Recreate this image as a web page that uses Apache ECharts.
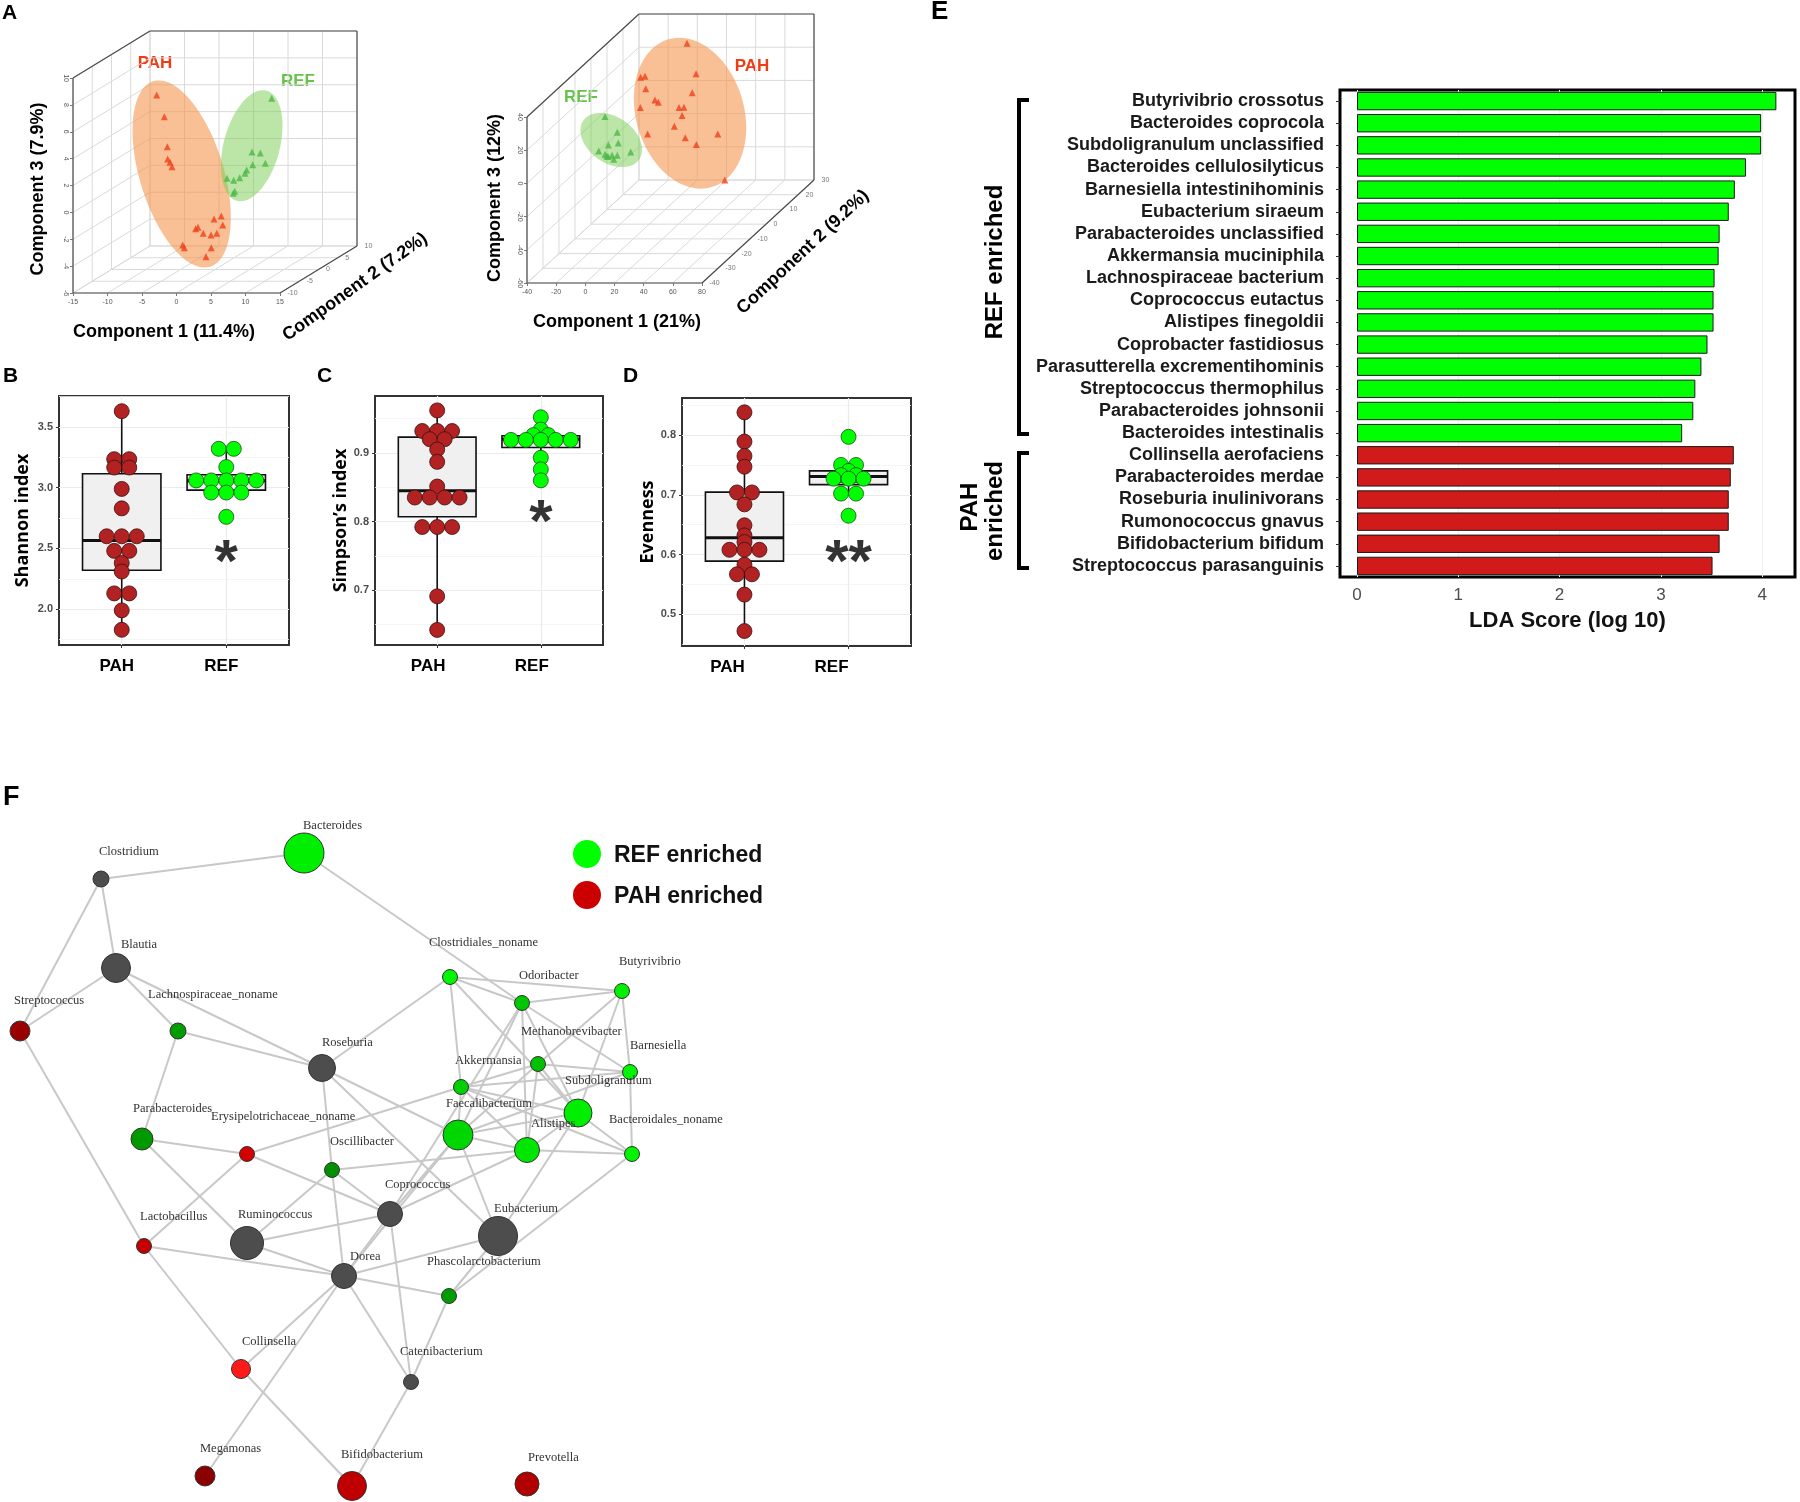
<!DOCTYPE html>
<html lang="en">
<head>
<meta charset="utf-8">
<title>Gut microbiome: PAH vs REF</title>
<script src="https://cdn.jsdelivr.net/npm/echarts@6.0.0/dist/echarts.min.js"></script>
<style>
  html, body { margin: 0; padding: 0; background: #ffffff; }
  #chart { width: 1800px; height: 1502px; }
</style>
</head>
<body>
<div id="chart"></div>
<script>
// ---------- A: ordination scores, each point = [component 1, component 2, component 3] ----------
const ordLeftPAH = [[-8.45,0,6.98],[-7.35,0,5.37],[-6.91,0,3.14],[-6.86,0,2.22],[-6.52,0,1.98],[-6.23,0,1.65],
  [-2.8,0,-2.96],[-2.46,0,-2.86],[-1.7,0,-3.31],[-0.58,0,-3.43],[0.25,0,-3.31],[-0.14,0,-2.24],[0.91,0,-2.02],
  [1.12,0,-2.69],[-4.68,0,-4.18],[-4.45,0,-4.38],[-0.54,0,-4.38],[-1.3,0,-5.05]];
const ordLeftREF = [[8.22,0,6.74],[5.36,0,2.74],[6.57,0,2.67],[7.29,0,1.9],[5.46,0,1.8],[4.59,0,1.4],
  [4.35,0,1.16],[3.58,0,0.83],[2.71,0,0.64],[1.74,0,0.79],[2.86,0,-0.18],[2.65,0,-0.33]];
const ordRightPAH = [[3.9,20,31.3],[10.1,20,12.9],[-27.9,20,10.8],[-24.9,20,11.4],[-24.4,20,3.9],[7.5,20,1.5],
  [-18.1,20,-2.9],[-15.8,20,-4.3],[-28.1,20,-7.5],[-1.6,20,-7.5],[1.8,20,-7.3],[0.5,20,-12.3],[-4.8,20,-18.7],
  [-23.1,20,-23.4],[2.7,20,-25.6],[25,20,-23.4],[10.3,20,-29.8],[29.8,20,-51.1]];
const ordRightREF = [[-30.4,0,4.8],[-22,0,-4.6],[-28.1,0,-12.3],[-21.3,0,-11.1],[-34.7,0,-15.9],[-30.4,0,-17.9],
  [-29.2,0,-18.9],[-25.6,0,-18.5],[-22,0,-18.5],[-24.4,0,-20.9],[-12.8,0,-16.5],[-28.3,0,-19.3]];
// ellipse centres
const ellLeftPAH = [-4.83,0,1.11], ellLeftREF = [5.32,0,3.21];
const ellRightPAH = [5.95,20,-10.9], ellRightREF = [-26.1,0,-9.3];
// tick labels
const leftTicks1 = [-15,-10,-5,0,5,10,15], leftTicks2 = [-10,-5,0,5,10], leftTicks3 = [-6,-4,-2,0,2,4,6,8,10];
const rightTicks1 = [-40,-20,0,20,40,60,80], rightTicks2 = [-40,-30,-20,-10,0,10,20,30], rightTicks3 = [-60,-40,-20,0,20,40];

// ---------- B-D: alpha diversity ----------
const groups = ['PAH', 'REF'];
const shannonPAH = [3.63,3.235,3.235,3.166,3.166,2.99,2.83,2.60,2.60,2.60,2.48,2.48,2.38,2.31,2.13,2.13,1.99,1.83];
const shannonREF = [3.32,3.32,3.17,3.06,3.06,3.06,3.06,3.06,2.96,2.96,2.96,2.76];
const simpsonPAH = [0.962,0.932,0.932,0.932,0.920,0.920,0.905,0.887,0.851,0.835,0.835,0.835,0.835,0.792,0.792,0.792,0.691,0.642];
const simpsonREF = [0.952,0.934,0.926,0.926,0.919,0.919,0.919,0.919,0.919,0.893,0.876,0.860];
const evenPAH = [0.838,0.789,0.765,0.747,0.704,0.704,0.684,0.649,0.632,0.621,0.608,0.608,0.608,0.583,0.567,0.567,0.533,0.472];
const evenREF = [0.797,0.750,0.750,0.740,0.733,0.733,0.727,0.727,0.727,0.702,0.702,0.665];
// box stats: [group, lower whisker, Q1, median, Q3, upper whisker]
const shannonBox = [[1,1.83,2.32,2.565,3.115,3.64],[2,2.96,2.98,3.057,3.107,3.32]];
const simpsonBox = [[1,0.642,0.807,0.845,0.923,0.962],[2,0.860,0.908,0.920,0.925,0.952]];
const evenBox = [[1,0.472,0.589,0.628,0.7045,0.838],[2,0.702,0.717,0.7305,0.740,0.750]];
const shannonTicks = [2.0,2.5,3.0,3.5], simpsonTicks = [0.7,0.8,0.9], evenTicks = [0.5,0.6,0.7,0.8];

// ---------- E: LEfSe ----------
const refTaxa = ['Butyrivibrio crossotus','Bacteroides coprocola','Subdoligranulum unclassified','Bacteroides cellulosilyticus',
  'Barnesiella intestinihominis','Eubacterium siraeum','Parabacteroides unclassified','Akkermansia muciniphila',
  'Lachnospiraceae bacterium','Coprococcus eutactus','Alistipes finegoldii','Coprobacter fastidiosus',
  'Parasutterella excrementihominis','Streptococcus thermophilus','Parabacteroides johnsonii','Bacteroides intestinalis'];
const refLDA = [4.14,3.99,3.99,3.84,3.73,3.67,3.58,3.57,3.53,3.52,3.52,3.46,3.40,3.34,3.32,3.21];
const pahTaxa = ['Collinsella aerofaciens','Parabacteroides merdae','Roseburia inulinivorans','Rumonococcus gnavus',
  'Bifidobacterium bifidum','Streptococcus parasanguinis'];
const pahLDA = [3.72,3.69,3.67,3.67,3.58,3.51];
const ldaTicks = [0,1,2,3,4];

// ---------- F: co-occurrence network ----------
const genera = ['Bacteroides','Clostridium','Blautia','Streptococcus','Lachnospiraceae_noname','Roseburia',
  'Clostridiales_noname','Odoribacter','Butyrivibrio','Methanobrevibacter','Barnesiella','Akkermansia',
  'Subdoligranulum','Faecalibacterium','Alistipes','Bacteroidales_noname','Parabacteroides','Erysipelotrichaceae_noname',
  'Oscillibacter','Coprococcus','Eubacterium','Lactobacillus','Ruminococcus','Dorea','Phascolarctobacterium',
  'Collinsella','Catenibacterium','Megamonas','Bifidobacterium','Prevotella'];
// layout coordinates of each genus in the network
const generaLayout = [[304,853],[101,879],[116,968],[20,1031],[178,1031],[322,1068],[450,977],[522,1003],[622,991],
  [538,1064],[630,1072],[461,1087],[578,1113],[458,1135],[527,1150],[632,1154],[142,1139],[247,1154],[332,1170],
  [390,1214],[498,1236],[144,1246],[247,1243],[344,1276],[449,1296],[241,1369],[411,1382],[205,1476],[352,1486],[527,1484]];
const generaAbundance = [40,16,29,20,16,27,15,15,15,15,15,15,28,30,25,15,22,15,15,25,39,15,33,25,15,19,15,20,29,24];
const networkEdges = [
  ['Clostridium','Bacteroides'],['Clostridium','Blautia'],['Clostridium','Streptococcus'],['Bacteroides','Odoribacter'],
  ['Blautia','Streptococcus'],['Blautia','Lachnospiraceae_noname'],['Blautia','Roseburia'],
  ['Lachnospiraceae_noname','Roseburia'],['Lachnospiraceae_noname','Parabacteroides'],['Streptococcus','Lactobacillus'],
  ['Roseburia','Clostridiales_noname'],['Roseburia','Oscillibacter'],['Roseburia','Faecalibacterium'],['Roseburia','Eubacterium'],
  ['Parabacteroides','Erysipelotrichaceae_noname'],['Parabacteroides','Ruminococcus'],
  ['Erysipelotrichaceae_noname','Akkermansia'],['Erysipelotrichaceae_noname','Lactobacillus'],['Erysipelotrichaceae_noname','Coprococcus'],
  ['Clostridiales_noname','Odoribacter'],['Clostridiales_noname','Butyrivibrio'],['Clostridiales_noname','Akkermansia'],
  ['Clostridiales_noname','Subdoligranulum'],['Odoribacter','Butyrivibrio'],['Odoribacter','Faecalibacterium'],
  ['Odoribacter','Coprococcus'],['Odoribacter','Alistipes'],['Odoribacter','Subdoligranulum'],['Odoribacter','Barnesiella'],
  ['Butyrivibrio','Barnesiella'],['Butyrivibrio','Methanobrevibacter'],['Butyrivibrio','Subdoligranulum'],
  ['Methanobrevibacter','Akkermansia'],['Methanobrevibacter','Barnesiella'],['Methanobrevibacter','Faecalibacterium'],
  ['Methanobrevibacter','Alistipes'],['Methanobrevibacter','Subdoligranulum'],
  ['Akkermansia','Barnesiella'],['Akkermansia','Faecalibacterium'],['Akkermansia','Subdoligranulum'],['Akkermansia','Alistipes'],
  ['Akkermansia','Bacteroidales_noname'],['Barnesiella','Bacteroidales_noname'],['Barnesiella','Faecalibacterium'],
  ['Subdoligranulum','Faecalibacterium'],['Subdoligranulum','Alistipes'],['Subdoligranulum','Bacteroidales_noname'],
  ['Subdoligranulum','Eubacterium'],['Faecalibacterium','Alistipes'],['Faecalibacterium','Eubacterium'],
  ['Faecalibacterium','Coprococcus'],['Faecalibacterium','Dorea'],['Alistipes','Bacteroidales_noname'],
  ['Alistipes','Oscillibacter'],['Alistipes','Coprococcus'],['Oscillibacter','Ruminococcus'],['Oscillibacter','Coprococcus'],
  ['Oscillibacter','Dorea'],['Coprococcus','Ruminococcus'],['Coprococcus','Dorea'],['Coprococcus','Catenibacterium'],
  ['Ruminococcus','Dorea'],['Lactobacillus','Dorea'],['Lactobacillus','Collinsella'],['Dorea','Eubacterium'],
  ['Dorea','Phascolarctobacterium'],['Dorea','Collinsella'],['Dorea','Megamonas'],['Dorea','Catenibacterium'],
  ['Phascolarctobacterium','Catenibacterium'],['Phascolarctobacterium','Eubacterium'],['Phascolarctobacterium','Bacteroidales_noname'],
  ['Collinsella','Bifidobacterium'],['Catenibacterium','Bifidobacterium']];

// ---------- styles ----------
const FONT = 'Liberation Sans';
const RED_PT = '#F0401A', GREEN_PT = '#4DB848';
const generaColor = ['#00EE00','#4D4D4D','#4D4D4D','#990000','#009C00','#4D4D4D','#00F500','#00C800','#00F000',
  '#00C000','#00F500','#00D000','#00EE00','#00D600','#00E600','#00F500','#009900','#D40000','#009000','#4D4D4D',
  '#4D4D4D','#C40000','#4D4D4D','#4D4D4D','#009C00','#FF1A1A','#4D4D4D','#8B0000','#C00000','#B00000'];
const generaLabelOffset = [[-1,-27],[-2,-27],[5,-23],[-6,-30],[-30,-36],[0,-25],[-21,-34],[-3,-27],[-3,-29],[-17,-32],
  [0,-26],[-6,-26],[-13,-32],[-12,-31],[4,-26],[-23,-34],[-9,-30],[-36,-37],[-2,-28],[-5,-29],[-4,-27],[-4,-29],
  [-9,-28],[6,-19],[-22,-34],[1,-27],[-11,-30],[-5,-27],[-11,-31],[1,-26]];

// oblique projection of the 3-D box (kx, ky: shift per unit of component 2)
const boxLeft = { c1: [-15, 15], c2: [-10, 10], c3: [-6, 10], t1: leftTicks1, t2: leftTicks2, t3: leftTicks3, kx: 0.558, ky: 0.175 };
const boxRight = { c1: [-40, 80], c2: [-40, 30], c3: [-60, 40], t1: rightTicks1, t2: rightTicks2, t3: rightTicks3, kx: 1.097, ky: 0.886 };

function proj(b, p) {
  return [p[0] + (p[1] - b.c2[0]) * b.kx, p[2] + (p[1] - b.c2[0]) * b.ky];
}

const grids = [], xAxes = [], yAxes = [], series = [];
const NO_LINE = { show: false, onZero: false };

function segmentSeries(gi, segs, color, width, z) {
  return {
    type: 'custom', xAxisIndex: gi, yAxisIndex: gi, clip: false, silent: true, z: z,
    data: segs.map(s => [s[0][0], s[0][1], s[1][0], s[1][1]]),
    renderItem(params, api) {
      const a = api.coord([api.value(0), api.value(1)]);
      const c = api.coord([api.value(2), api.value(3)]);
      return { type: 'line', shape: { x1: a[0], y1: a[1], x2: c[0], y2: c[1] },
        style: { stroke: color, lineWidth: width } };
    }
  };
}

function ellipseSeries(gi, b, centre, a, bb, angle, fill) {
  return {
    type: 'custom', xAxisIndex: gi, yAxisIndex: gi, clip: false, silent: true, z: 3,
    data: [proj(b, centre)],
    renderItem(params, api) {
      const c = api.coord([api.value(0), api.value(1)]);
      const r = angle * Math.PI / 180, pts = [];
      for (let i = 0; i < 90; i++) {
        const t = i / 90 * 2 * Math.PI;
        const ex = a * Math.cos(t), ey = bb * Math.sin(t);
        pts.push([c[0] + ex * Math.cos(r) - ey * Math.sin(r), c[1] + ex * Math.sin(r) + ey * Math.cos(r)]);
      }
      return { type: 'polygon', shape: { points: pts }, style: { fill: fill } };
    }
  };
}

function panel3d(gi, b, rect, pah, ref, ells) {
  const [x0, x1] = b.c1, [y0, y1] = b.c2, [z0, z1] = b.c3;
  const P = (a, d, c) => proj(b, [a, d, c]);
  const inner = [], outer = [];
  b.t1.forEach(v => { inner.push([P(v, y1, z0), P(v, y1, z1)]); inner.push([P(v, y0, z0), P(v, y1, z0)]); });
  b.t3.forEach(v => { inner.push([P(x0, y1, v), P(x1, y1, v)]); inner.push([P(x0, y0, v), P(x0, y1, v)]); });
  b.t2.forEach(v => { inner.push([P(x0, v, z0), P(x1, v, z0)]); inner.push([P(x0, v, z0), P(x0, v, z1)]); });
  const cn = [P(x0,y0,z0), P(x1,y0,z0), P(x1,y1,z0), P(x1,y1,z1), P(x0,y1,z1), P(x0,y0,z1), P(x0,y0,z0)];
  for (let i = 0; i < 6; i++) outer.push([cn[i], cn[i + 1]]);

  grids.push(Object.assign({ outerBoundsMode: 'none' }, rect));
  xAxes.push({
    gridIndex: gi, type: 'value', min: x0, max: P(x1, y1, z0)[0],
    axisLine: NO_LINE, splitLine: { show: false },
    axisTick: { customValues: b.t1, length: 3, lineStyle: { color: '#777' } },
    axisLabel: { customValues: b.t1, fontSize: 7, color: '#555', margin: 6, fontFamily: FONT }
  });
  yAxes.push({
    gridIndex: gi, type: 'value', min: z0, max: P(x0, y1, z1)[1],
    axisLine: NO_LINE, splitLine: { show: false },
    axisTick: { customValues: b.t3, length: 3, lineStyle: { color: '#777' } },
    axisLabel: { customValues: b.t3, fontSize: 7, color: '#555', margin: 4, rotate: -90, fontFamily: FONT }
  });
  const ax = { xAxisIndex: gi, yAxisIndex: gi };
  series.push(segmentSeries(gi, inner, '#DADADA', 1, 1));
  series.push(segmentSeries(gi, outer, '#4A4A4A', 1.2, 2));
  ells.forEach(e => series.push(ellipseSeries(gi, b, e[0], e[1], e[2], e[3], e[4])));
  series.push(Object.assign({ type: 'scatter', symbol: 'triangle', symbolSize: 7, z: 4,
    itemStyle: { color: RED_PT }, data: pah.map(p => proj(b, p)) }, ax));
  series.push(Object.assign({ type: 'scatter', symbol: 'triangle', symbolSize: 7, z: 4,
    itemStyle: { color: GREEN_PT }, data: ref.map(p => proj(b, p)) }, ax));
  // component 2 tick labels along the depth edge
  series.push(Object.assign({ type: 'scatter', symbolSize: 1, z: 4, silent: true,
    itemStyle: { color: 'rgba(0,0,0,0)' },
    label: { show: true, position: 'right', distance: 7, fontSize: 7, color: '#555', fontFamily: FONT,
      formatter: p => String(b.t2[p.dataIndex]) },
    data: b.t2.map(v => P(x1, v, z0)) }, ax));
}

panel3d(0, boxLeft, { left: 73, top: 31, width: 284, height: 262 }, ordLeftPAH, ordLeftREF, [
  [ellLeftPAH, 97, 42, 73, 'rgba(245,150,80,0.6)'],
  [ellLeftREF, 57, 28, 105, 'rgba(120,205,80,0.5)']
]);
panel3d(1, boxRight, { left: 527, top: 14, width: 287, height: 269 }, ordRightPAH, ordRightREF, [
  [ellRightPAH, 77, 54, 73.6, 'rgba(245,150,80,0.6)'],
  [ellRightREF, 34, 23, 35, 'rgba(120,205,80,0.5)']
]);

// ---------- alpha diversity panels ----------
function stackDots(values, x, step) {
  const counts = {}, seen = {};
  values.forEach(v => { counts[v] = (counts[v] || 0) + 1; });
  return values.map(v => {
    seen[v] = seen[v] === undefined ? 0 : seen[v] + 1;
    return [x + (seen[v] - (counts[v] - 1) / 2) * step, v];
  });
}

function alphaPanel(gi, rect, pahVals, refVals, boxStats, yMin, yMax, majors, title, nameGap, starText, starY, labelShift) {
  const minors = [];
  for (let i = 0; i <= majors.length; i++) {
    const step = majors[1] - majors[0];
    const m = majors[0] + (i - 0.5) * step;
    if (m > yMin + 0.002 && m < yMax - 0.004) minors.push(m);
  }
  grids.push(Object.assign({ show: true, borderColor: '#333', borderWidth: 2, backgroundColor: '#fff', outerBoundsMode: 'none' }, rect));
  xAxes.push({
    gridIndex: gi, type: 'value', min: 0.4, max: 2.6,
    axisLine: NO_LINE, splitLine: { show: false },
    axisTick: { customValues: [1, 2], length: 3, lineStyle: { color: '#333' } },
    axisLabel: { customValues: [1, 2], formatter: v => groups[Math.round(v) - 1], margin: 13,
      padding: [0, 2 * labelShift, 0, 0],
      fontFamily: FONT, fontWeight: 'bold', fontSize: 17, color: '#000' }
  });
  yAxes.push({
    gridIndex: gi, type: 'value', min: yMin, max: yMax,
    name: title, nameLocation: 'middle', nameGap: nameGap,
    nameTextStyle: { fontFamily: 'Open Sans', fontWeight: 'bold', fontSize: 18, color: '#000' },
    axisLine: NO_LINE, splitLine: { show: false },
    axisTick: { customValues: majors, length: 3, lineStyle: { color: '#333' } },
    axisLabel: { customValues: majors, formatter: v => v.toFixed(1), margin: 6,
      fontFamily: FONT, fontWeight: 'bold', fontSize: 11, color: '#4D4D4D' }
  });
  const ax = { xAxisIndex: gi, yAxisIndex: gi };
  series.push(Object.assign({ type: 'lines', coordinateSystem: 'cartesian2d', silent: true, z: 1,
    lineStyle: { color: '#F3F3F3', width: 0.8, opacity: 1 },
    data: minors.map(v => ({ coords: [[0.4, v], [2.6, v]] })) }, ax));
  series.push(Object.assign({ type: 'lines', coordinateSystem: 'cartesian2d', silent: true, z: 1,
    lineStyle: { color: '#EBEBEB', width: 1.2, opacity: 1 },
    data: majors.map(v => ({ coords: [[0.4, v], [2.6, v]] }))
      .concat([1, 2].map(g => ({ coords: [[g, yMin], [g, yMax]] }))) }, ax));
  series.push(Object.assign({
    type: 'custom', z: 2, silent: true, data: boxStats,
    renderItem(params, api) {
      const x = api.value(0), bw = 0.375;
      const lo = api.coord([x, api.value(1)]), q1 = api.coord([x, api.value(2)]);
      const q3 = api.coord([x, api.value(4)]), hi = api.coord([x, api.value(5)]);
      const bl = api.coord([x - bw, api.value(2)]), tr = api.coord([x + bw, api.value(4)]);
      const ml = api.coord([x - bw, api.value(3)]), mr = api.coord([x + bw, api.value(3)]);
      const st = { stroke: '#111', lineWidth: 1.6 };
      return { type: 'group', children: [
        { type: 'line', shape: { x1: lo[0], y1: lo[1], x2: q1[0], y2: q1[1] }, style: st },
        { type: 'line', shape: { x1: q3[0], y1: q3[1], x2: hi[0], y2: hi[1] }, style: st },
        { type: 'rect', shape: { x: bl[0], y: tr[1], width: tr[0] - bl[0], height: bl[1] - tr[1] },
          style: { fill: '#F0F0F0', stroke: '#111', lineWidth: 1.6 } },
        { type: 'line', shape: { x1: ml[0], y1: ml[1], x2: mr[0], y2: mr[1] }, style: { stroke: '#111', lineWidth: 3 } }
      ] };
    }
  }, ax));
  series.push(Object.assign({ type: 'scatter', symbolSize: 15, z: 3,
    itemStyle: { color: '#B22222', borderColor: '#3A1010', borderWidth: 0.8, opacity: 1 },
    data: stackDots(pahVals, 1, 0.144) }, ax));
  series.push(Object.assign({ type: 'scatter', symbolSize: 15, z: 3,
    itemStyle: { color: '#00FF00', borderColor: '#1F4A1F', borderWidth: 0.8, opacity: 1 },
    data: stackDots(refVals, 2, 0.144) }, ax));
  series.push(Object.assign({ type: 'scatter', symbolSize: 1, z: 5, silent: true,
    itemStyle: { color: 'rgba(0,0,0,0)' },
    label: { show: true, position: 'inside', formatter: starText, offset: [0, 16],
      fontFamily: FONT, fontWeight: 'bold', fontSize: 60, color: '#000' },
    data: [[2, starY]] }, ax));
}

alphaPanel(2, { left: 59, top: 396, width: 230, height: 249 }, shannonPAH, shannonREF, shannonBox,
  1.705, 3.755, shannonTicks, 'Shannon index', 27, '*', 2.5, 5);
alphaPanel(3, { left: 375, top: 396, width: 228, height: 249 }, simpsonPAH, simpsonREF, simpsonBox,
  0.620, 0.983, simpsonTicks, 'Simpson\u2019s index', 23, '*', 0.819, 9);
alphaPanel(4, { left: 682, top: 398, width: 229, height: 248 }, evenPAH, evenREF, evenBox,
  0.447, 0.862, evenTicks, 'Evenness', 21, '**', 0.61, 17);

// ---------- E: LDA bar chart ----------
const ldaCats = refTaxa.concat(pahTaxa);
const ldaData = refLDA.map(v => ({ value: v, itemStyle: { color: '#00FF00' } }))
  .concat(pahLDA.map(v => ({ value: v, itemStyle: { color: '#D11A1A' } })));
grids.push({ left: 1340, top: 90, width: 455, height: 487, show: true, borderColor: '#000', borderWidth: 3,
  backgroundColor: '#fff', outerBoundsMode: 'none' });
xAxes.push({
  gridIndex: 5, type: 'value', min: -0.168, max: 4.324,
  name: 'LDA Score (log 10)', nameLocation: 'middle', nameGap: 33,
  nameTextStyle: { fontFamily: FONT, fontWeight: 'bold', fontSize: 22, color: '#111' },
  axisLine: NO_LINE,
  axisTick: { customValues: ldaTicks, length: 4, lineStyle: { color: '#333' } },
  splitLine: { show: true, lineStyle: { color: '#F0F0F0', width: 1 } },
  axisLabel: { customValues: ldaTicks, margin: 10, fontFamily: FONT, fontSize: 17, color: '#4D4D4D' }
});
yAxes.push({
  gridIndex: 5, type: 'category', data: ldaCats, inverse: true,
  axisLine: NO_LINE,
  axisTick: { show: true, alignWithLabel: true, length: 4, lineStyle: { color: '#333' } },
  axisLabel: { interval: 0, margin: 16, fontFamily: FONT, fontWeight: 'bold', fontSize: 18, color: '#1A1A1A' }
});
series.push({ type: 'bar', xAxisIndex: 5, yAxisIndex: 5, data: ldaData, barCategoryGap: '17%', z: 3,
  itemStyle: { borderColor: '#1A1A1A', borderWidth: 1 } });

// ---------- F: network ----------
grids.push({ left: 0, top: 780, width: 800, height: 722, outerBoundsMode: 'none' });
xAxes.push({ gridIndex: 6, type: 'value', min: 0, max: 800, show: false, axisLine: NO_LINE });
yAxes.push({ gridIndex: 6, type: 'value', min: 780, max: 1502, inverse: true, show: false, axisLine: NO_LINE });
series.push({
  type: 'graph', coordinateSystem: 'cartesian2d', xAxisIndex: 6, yAxisIndex: 6, layout: 'none', z: 3,
  data: genera.map((g, i) => ({
    name: g, value: generaLayout[i], symbolSize: generaAbundance[i],
    itemStyle: { color: generaColor[i], borderColor: '#333', borderWidth: 1 },
    label: { offset: generaLabelOffset[i] }
  })),
  links: networkEdges.map(e => ({ source: e[0], target: e[1] })),
  lineStyle: { color: '#C8C8C8', width: 2, opacity: 1, curveness: 0 },
  label: { show: true, position: 'inside', align: 'left', verticalAlign: 'middle',
    fontFamily: 'Liberation Serif', fontSize: 12.5, color: '#333' },
  emphasis: { disabled: true }
});

// ---------- annotations ----------
function txt(text, x, y, size, opts) {
  return Object.assign({ type: 'text', x: x, y: y, silent: true,
    style: { text: text, fontFamily: FONT, fontWeight: 'bold', fontSize: size, fill: '#000',
      align: 'center', verticalAlign: 'middle' } }, opts || {});
}
function styled(t, style) { Object.assign(t.style, style); return t; }

const graphics = [
  styled(txt('A', 2, 3, 21), { align: 'left', verticalAlign: 'top' }),
  styled(txt('B', 3, 366, 21), { align: 'left', verticalAlign: 'top' }),
  styled(txt('C', 317, 366, 21), { align: 'left', verticalAlign: 'top' }),
  styled(txt('D', 623, 366, 21), { align: 'left', verticalAlign: 'top' }),
  styled(txt('E', 931, -1, 26), { align: 'left', verticalAlign: 'top' }),
  styled(txt('F', 3, 784, 27), { align: 'left', verticalAlign: 'top' }),
  styled(txt('PAH', 155, 63, 17), { fill: '#F03C14' }),
  styled(txt('REF', 298, 81, 17), { fill: '#66C34A' }),
  styled(txt('PAH', 752, 66, 17), { fill: '#F03C14' }),
  styled(txt('REF', 581, 97, 17), { fill: '#66C34A' }),
  txt('Component 1 (11.4%)', 164, 332, 18),
  txt('Component 3 (7.9%)', 38, 189, 18, { rotation: Math.PI / 2 }),
  txt('Component 2 (7.2%)', 355, 287, 18, { rotation: 35.5 * Math.PI / 180 }),
  txt('Component 1 (21%)', 617, 322, 18),
  txt('Component 3 (12%)', 495, 198, 18, { rotation: Math.PI / 2 }),
  txt('Component 2 (9.2%)', 803, 252, 18, { rotation: 43 * Math.PI / 180 }),
  { type: 'polyline', silent: true, shape: { points: [[1029, 100], [1019, 100], [1019, 434], [1029, 434]] },
    style: { stroke: '#000', lineWidth: 4, fill: null } },
  { type: 'polyline', silent: true, shape: { points: [[1029, 453], [1019, 453], [1019, 568], [1029, 568]] },
    style: { stroke: '#000', lineWidth: 4, fill: null } },
  txt('REF enriched', 995, 262, 24, { rotation: Math.PI / 2 }),
  txt('PAH', 970, 507, 24, { rotation: Math.PI / 2 }),
  txt('enriched', 995, 511, 24, { rotation: Math.PI / 2 }),
  { type: 'circle', silent: true, shape: { cx: 587, cy: 854, r: 14 }, style: { fill: '#00FF00' } },
  { type: 'circle', silent: true, shape: { cx: 587, cy: 895, r: 14 }, style: { fill: '#CC0000' } },
  styled(txt('REF enriched', 614, 856, 23), { align: 'left', fill: '#111' }),
  styled(txt('PAH enriched', 614, 897, 23), { align: 'left', fill: '#111' })
];

const chart = echarts.init(document.getElementById('chart'));
chart.setOption({
  backgroundColor: '#ffffff',
  animation: false,
  grid: grids,
  xAxis: xAxes,
  yAxis: yAxes,
  series: series,
  graphic: { elements: graphics }
});
window.addEventListener('resize', () => chart.resize());
</script>
</body>
</html>
